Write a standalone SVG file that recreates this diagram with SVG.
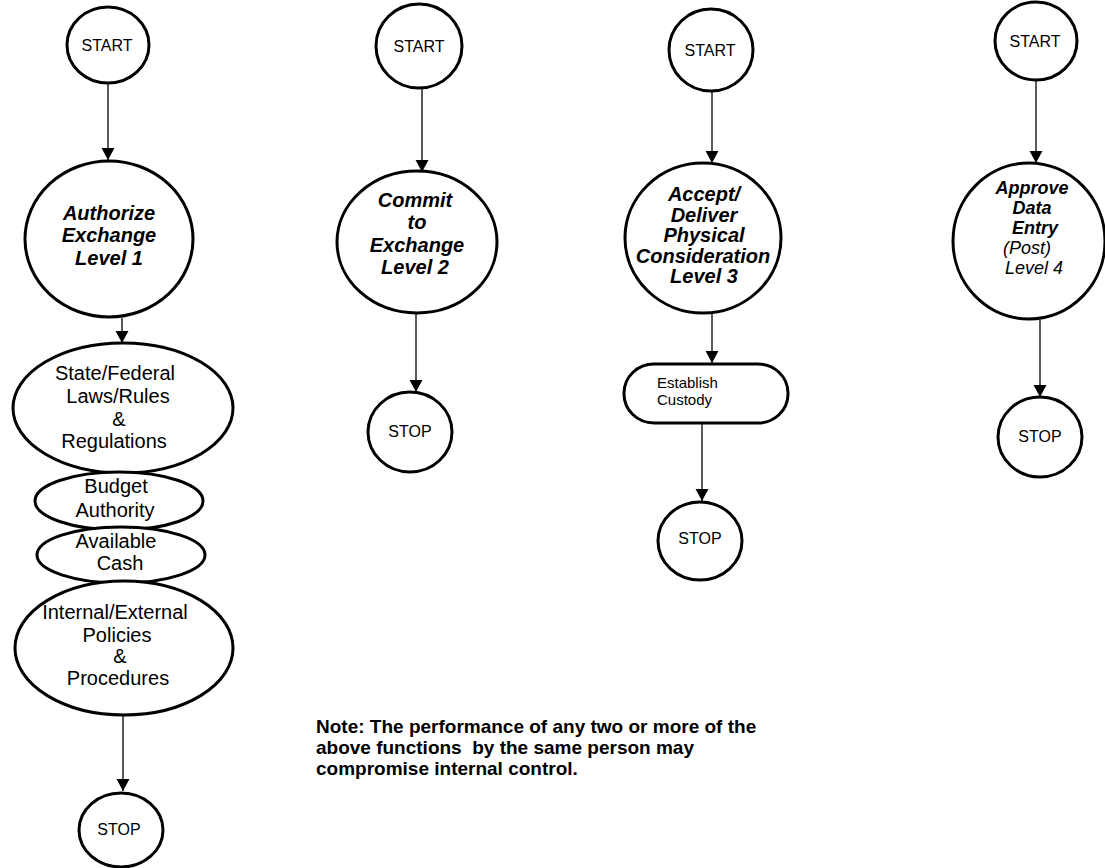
<svg xmlns="http://www.w3.org/2000/svg" width="1105" height="868" viewBox="0 0 1105 868">
<defs>
<style>
.node{fill:#fff;stroke:#000;stroke-width:3}
.conn{stroke:#000;stroke-width:1.3;fill:none;marker-end:url(#arr)}
.t{font-family:"Liberation Sans",Arial,sans-serif;fill:#000;text-anchor:middle}
.se{font-size:16px}
.bi{font-size:20px;font-weight:bold;font-style:italic}
.bi4{font-size:18px;font-weight:bold;font-style:italic}
.it4{font-size:18px;font-style:italic}
.rg{font-size:20px}
.sm{font-size:15px;text-anchor:start}
.note{font-family:"Liberation Sans",Arial,sans-serif;font-size:19px;font-weight:bold;fill:#000;white-space:pre}
</style>
<marker id="arr" markerWidth="12" markerHeight="14" refX="13" refY="7" orient="auto" markerUnits="userSpaceOnUse" viewBox="0 0 13 14">
<path d="M0,0 L13,7 L0,14 Z" fill="#000"/>
</marker>
</defs>
<rect width="1105" height="868" fill="#fff"/>
<g id="connectors">
<line class="conn" x1="108" y1="84" x2="108" y2="160"/>
<line class="conn" x1="122" y1="318" x2="122" y2="343"/>
<line class="conn" x1="123" y1="715" x2="123" y2="791"/>
<line class="conn" x1="422" y1="88" x2="422" y2="172"/>
<line class="conn" x1="416" y1="313" x2="416" y2="392"/>
<line class="conn" x1="712" y1="91" x2="712" y2="163"/>
<line class="conn" x1="712" y1="313" x2="712" y2="363"/>
<line class="conn" x1="702" y1="423" x2="702" y2="501"/>
<line class="conn" x1="1036" y1="80" x2="1036" y2="163"/>
<line class="conn" x1="1040" y1="320" x2="1040" y2="397"/>
</g>
<g id="start1"><ellipse class="node" cx="108" cy="45" rx="41" ry="38"/><text class="t se" x="107" y="51">START</text></g>
<g id="authorize"><ellipse class="node" cx="109" cy="239" rx="84" ry="78"/>
<text class="t bi" x="109" y="220">Authorize</text><text class="t bi" x="109" y="242">Exchange</text><text class="t bi" x="109" y="265">Level 1</text></g>
<g id="laws"><ellipse class="node" cx="123" cy="408" rx="110" ry="65"/>
<text class="t rg" x="115" y="380">State/Federal</text><text class="t rg" x="118" y="403">Laws/Rules</text><text class="t rg" x="119" y="426">&amp;</text><text class="t rg" x="114" y="448">Regulations</text></g>
<g id="budget"><ellipse class="node" cx="119" cy="501" rx="84" ry="29"/>
<text class="t rg" x="116" y="493">Budget</text><text class="t rg" x="115" y="517">Authority</text></g>
<g id="cash"><ellipse class="node" cx="121" cy="555" rx="84" ry="28"/>
<text class="t rg" x="116" y="548">Available</text><text class="t rg" x="120" y="570">Cash</text></g>
<g id="policies"><ellipse class="node" cx="124" cy="648" rx="109" ry="67"/>
<text class="t rg" x="115" y="619">Internal/External</text><text class="t rg" x="117" y="642">Policies</text><text class="t rg" x="120" y="663">&amp;</text><text class="t rg" x="118" y="685">Procedures</text></g>
<g id="stop1"><ellipse class="node" cx="121" cy="830" rx="42" ry="37"/><text class="t se" x="119" y="835">STOP</text></g>

<g id="start2"><ellipse class="node" cx="419" cy="46" rx="43" ry="42"/><text class="t se" x="419" y="52">START</text></g>
<g id="commit"><ellipse class="node" cx="417" cy="242" rx="80" ry="71"/>
<text class="t bi" x="415" y="207">Commit</text><text class="t bi" x="417" y="229">to</text><text class="t bi" x="417" y="252">Exchange</text><text class="t bi" x="415" y="274">Level 2</text></g>
<g id="stop2"><ellipse class="node" cx="410" cy="432" rx="42" ry="40"/><text class="t se" x="410" y="437">STOP</text></g>

<g id="start3"><ellipse class="node" cx="711" cy="50" rx="42" ry="41"/><text class="t se" x="710" y="56">START</text></g>
<g id="accept"><ellipse class="node" cx="703" cy="238" rx="78" ry="75"/>
<text class="t bi" x="704" y="201">Accept/</text><text class="t bi" x="704" y="222">Deliver</text><text class="t bi" x="704" y="242">Physical</text><text class="t bi" x="703" y="263">Consideration</text><text class="t bi" x="704" y="283">Level 3</text></g>
<g id="custody"><rect class="node" x="624" y="364" width="164" height="59" rx="30" ry="29"/>
<text class="t sm" x="657" y="388">Establish</text><text class="t sm" x="657" y="405">Custody</text></g>
<g id="stop3"><ellipse class="node" cx="700" cy="541" rx="42" ry="39"/><text class="t se" x="700" y="544">STOP</text></g>

<g id="start4"><ellipse class="node" cx="1036" cy="41" rx="41" ry="39"/><text class="t se" x="1035" y="47">START</text></g>
<g id="approve"><ellipse class="node" cx="1029" cy="241" rx="76" ry="78"/>
<text class="t bi4" x="1032" y="194">Approve</text><text class="t bi4" x="1032" y="214">Data</text><text class="t bi4" x="1035" y="234">Entry</text><text class="t it4" x="1027" y="254">(Post)</text><text class="t it4" x="1034" y="274">Level 4</text></g>
<g id="stop4"><ellipse class="node" cx="1040" cy="437" rx="42" ry="40"/><text class="t se" x="1040" y="442">STOP</text></g>

<g id="note">
<text class="note" x="316" y="733">Note: The performance of any two or more of the</text>
<text class="note" x="316" y="754" xml:space="preserve">above functions  by the same person may</text>
<text class="note" x="316" y="775">compromise internal control.</text>
</g>
</svg>
